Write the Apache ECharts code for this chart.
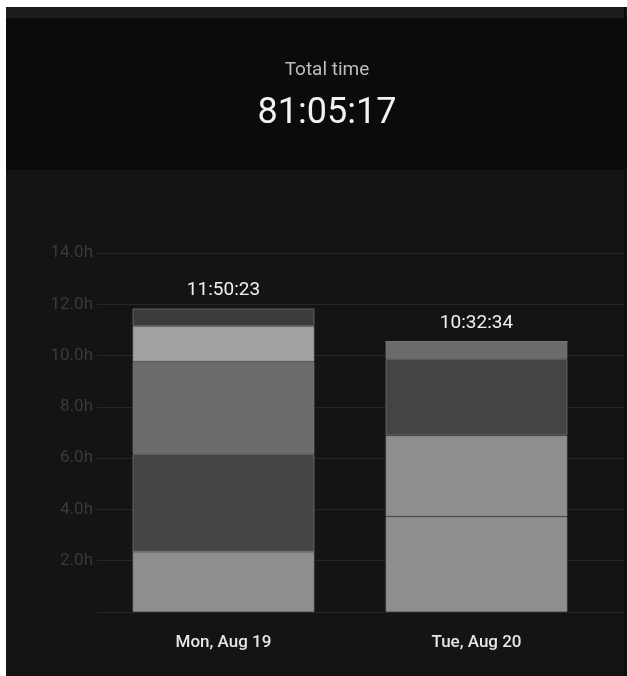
<!DOCTYPE html>
<html>
<head>
    <meta charset="UTF-8">
    <title>Total time</title>
    <script src="https://cdn.jsdelivr.net/npm/echarts@6/dist/echarts.min.js"></script>
    <style>
        body { margin: 0; background: #fff; }
        #frame { position: absolute; left: 6px; top: 7px; width: 621px; height: 669px; background: #141414; }
        #strip { position: absolute; left: 0; top: 0; width: 100%; height: 11px; background: #1d1d1d; }
        #head { position: absolute; left: 0; top: 11px; width: 100%; height: 152px; background: #0b0b0b; }
        #edge { position: absolute; left: 618px; top: 0; width: 2px; height: 100%; background: #0c0c0c; }
        #chart { position: absolute; left: 0; top: 0; width: 627px; height: 676px; }
    </style>
</head>
<body>
    <div id="frame"><div id="strip"></div><div id="head"></div><div id="edge"></div></div>
    <div id="chart"></div>

    <script>
        // days and totals as shown on the chart
        var days = ['Mon, Aug 19', 'Tue, Aug 20'];
        var totals = ['11:50:23', '10:32:34'];
        var grandTotal = '81:05:17';

        // hours per project, stacked bottom to top
        var projA = [2.35, 3.72];
        var projB = [0, 3.16];
        var projC = [3.81, 2.99];
        var projD = [3.60, 0.67];
        var projE = [1.39, 0];
        var projF = [0.69, 0];

        var yMin = 0, yMax = 14, yStep = 2;

        function toHours(s) {
            var p = s.split(':');
            return +p[0] + p[1] / 60 + p[2] / 3600;
        }

        var chart = echarts.init(document.getElementById('chart'), null, {renderer: 'canvas'});

        var font = 'Roboto, "Noto Sans", sans-serif';
        var split = {show: true, lineStyle: {color: '#272727', width: 1}};

        function part(data, color) {
            return {
                type: 'bar', stack: 'day', data: data, barWidth: 182,
                xAxisIndex: 0, yAxisIndex: 0, silent: true,
                itemStyle: {color: color, borderColor: 'rgba(120,120,120,0.7)', borderWidth: 1}
            };
        }

        chart.setOption({
            backgroundColor: 'transparent',
            animation: false,
            textStyle: {fontFamily: font},
            graphic: [
                {type: 'text', x: 327, y: 70, style: {text: 'Total time', fill: '#bdbdbd', font: '19px ' + font, textAlign: 'center', textVerticalAlign: 'middle'}},
                {type: 'text', x: 327, y: 114, style: {text: grandTotal, fill: '#f2f2f2', font: '36px ' + font, textAlign: 'center', textVerticalAlign: 'middle'}}
            ],
            grid: [
                {left: 97, right: 24, top: 253, bottom: 64},
                {left: 603, right: 3, top: 253, bottom: 64}
            ],
            xAxis: [
                {
                    type: 'category', data: days, gridIndex: 0,
                    axisLine: {show: false}, axisTick: {show: false},
                    axisLabel: {color: '#e6e6e6', fontSize: 17, fontWeight: 500, margin: 22, fontFamily: font}
                },
                {type: 'category', data: [''], gridIndex: 1, show: false}
            ],
            yAxis: [
                {
                    type: 'value', gridIndex: 0, min: yMin, max: yMax, interval: yStep,
                    axisLine: {show: false}, axisTick: {show: false}, splitLine: split,
                    axisLabel: {
                        color: '#3a3a3a', fontSize: 17, margin: 4, fontFamily: font,
                        formatter: function (v) { return v === 0 ? '' : v.toFixed(1) + 'h'; }
                    }
                },
                {
                    type: 'value', gridIndex: 1, min: yMin, max: yMax, interval: yStep,
                    axisLine: {show: false}, axisTick: {show: false}, axisLabel: {show: false}, splitLine: split
                }
            ],
            series: [
                part(projA, '#8e8e8e'),
                part(projB, '#8e8e8e'),
                part(projC, '#444444'),
                part(projD, '#6b6b6b'),
                part(projE, '#a2a2a2'),
                part(projF, '#3b3b3b'),
                {
                    type: 'bar', data: totals.map(toHours), barWidth: 182, barGap: '-100%',
                    xAxisIndex: 0, yAxisIndex: 0, silent: true, z: 3,
                    itemStyle: {color: 'rgba(0,0,0,0)'},
                    label: {
                        show: true, position: 'top', distance: 9, color: '#f0f0f0',
                        fontSize: 19, fontFamily: font,
                        formatter: function (p) { return totals[p.dataIndex]; }
                    }
                }
            ]
        });
    </script>
</body>
</html>
